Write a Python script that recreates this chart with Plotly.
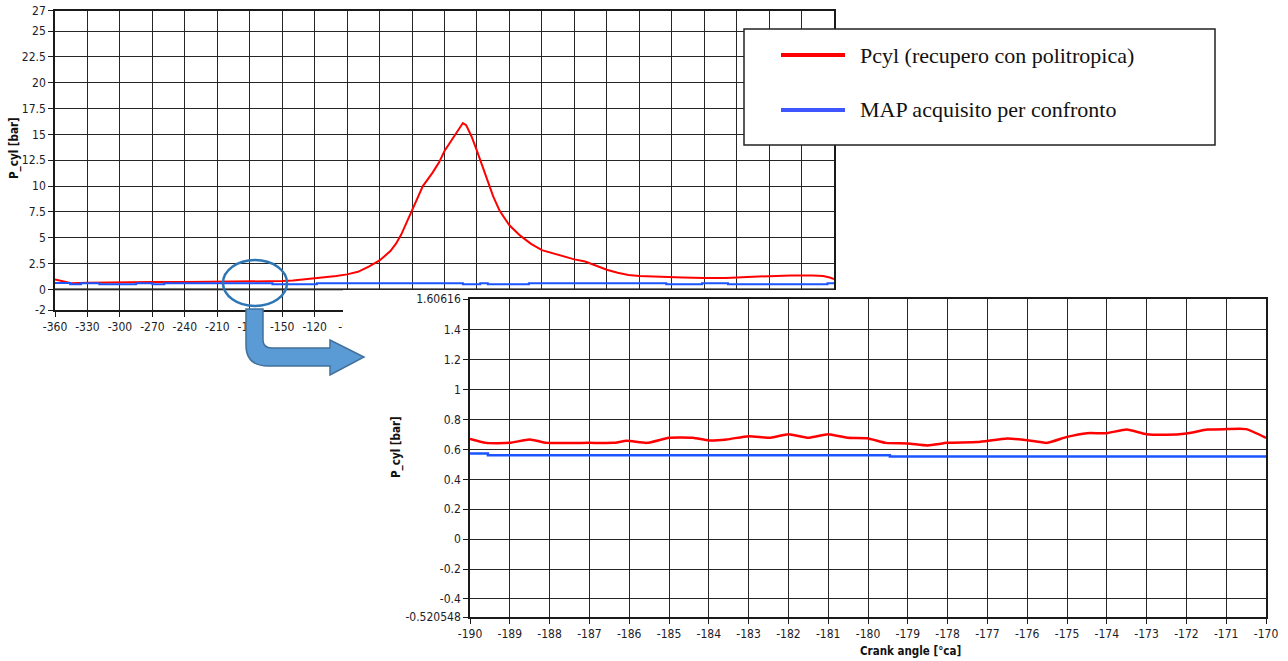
import plotly.graph_objects as go

W, H = 1288, 661

# ---- full engine cycle: cylinder pressure and MAP (deg crank angle, bar) ----
cycle_angle = [-360, -355, -350, -345, -330, -300, -270, -240, -210, -180,
               -160, -150, -140, -130, -120, -110, -100, -90, -80, -70,
               -60, -50, -45, -40, -30, -20, -11, -5, 0, 8,
               13, 17, 20, 25, 30, 38, 45, 51, 60, 70,
               80, 90, 100, 110, 120, 130, 140, 150, 160, 170,
               180, 200, 220, 240, 260, 280, 300, 320, 340, 350,
               356, 360]
pcyl_cycle = [0.95, 0.85, 0.7, 0.6, 0.65, 0.7, 0.72, 0.7, 0.72, 0.72,
              0.75, 0.8, 0.85, 0.95, 1.05, 1.2, 1.3, 1.45, 1.7, 2.2,
              2.8, 3.7, 4.4, 5.3, 7.6, 10.0, 11.3, 12.3, 13.4, 14.7,
              15.5, 16.1, 15.9, 14.8, 13.4, 11.0, 9.0, 7.6, 6.2, 5.2,
              4.4, 3.8, 3.5, 3.2, 2.9, 2.7, 2.3, 1.9, 1.6, 1.4,
              1.3, 1.2, 1.15, 1.1, 1.1, 1.2, 1.3, 1.35, 1.35, 1.3,
              1.15, 1.0]

map_angle = [-360, -346, -336, -319, -285, -270, -259, -159, -118,
             17, 33, 40, 78, 205, 238, 262, 354, 360]
map_cycle = [0.62, 0.5, 0.6, 0.5, 0.6, 0.5, 0.6, 0.5, 0.6,
             0.5, 0.6, 0.5, 0.6, 0.5, 0.6, 0.5, 0.6, 0.6]

cycle_xticks = list(range(-360, 361, 30))
# labels right of -90 sit under the detail panel, so they are left blank
cycle_xlabels = [str(v) if v <= -90 else "" for v in cycle_xticks]
cycle_yticks = [-2, 0, 2.5, 5, 7.5, 10, 12.5, 15, 17.5, 20, 22.5, 25, 27]
cycle_ylabels = ["-2", "0", "2.5", "5", "7.5", "10", "12.5", "15", "17.5",
                 "20", "22.5", "25", "27"]

# ---- detail window -190 .. -170 deg ----
zoom_angle = [-190, -189.6, -189, -188.5, -188.07, -187, -186.4, -186.06,
              -185.55, -185, -184.4, -184, -183.55, -183, -182.45, -182,
              -181.5, -181, -180.52, -180.02, -179.56, -179, -178.5, -178,
              -177.25, -176.5, -176, -175.5, -175, -174.5, -174, -173.5,
              -173, -172.5, -172, -171.47, -171, -170.5, -170]
pcyl_zoom = [0.671, 0.644, 0.644, 0.667, 0.644, 0.644, 0.644, 0.658,
             0.644, 0.678, 0.678, 0.66, 0.667, 0.689, 0.678, 0.702,
             0.678, 0.702, 0.678, 0.675, 0.644, 0.64, 0.627, 0.644,
             0.649, 0.673, 0.662, 0.644, 0.684, 0.709, 0.709, 0.733,
             0.702, 0.698, 0.707, 0.733, 0.736, 0.736, 0.678]

map_zoom_angle = [-190, -189.55, -179.45, -170]
map_zoom = [0.573, 0.562, 0.553, 0.553]

zoom_xticks = list(range(-190, -169, 1))
zoom_yticks = [-0.520548, -0.4, -0.2, 0, 0.2, 0.4, 0.6, 0.8, 1, 1.2, 1.4, 1.60616]
zoom_ylabels = ["-0.520548", "-0.4", "-0.2", "0", "0.2", "0.4", "0.6", "0.8",
                "1", "1.2", "1.4", "1.60616"]

legend_labels = ["Pcyl (recupero con politropica)", "MAP acquisito per confronto"]

RED = "#ff0000"
BLUE = "#1a55ff"
GRID = "#262626"
SANS = "DejaVu Sans Condensed, Liberation Sans Narrow, sans-serif"
TICKFONT = dict(family=SANS, size=12, color="#1c1c28")


def px(x):
    return x / W


def py(y):
    return 1 - y / H


fig = go.Figure()

fig.add_trace(go.Scatter(x=cycle_angle, y=pcyl_cycle, mode="lines",
                         line=dict(color=RED, width=2), xaxis="x", yaxis="y",
                         showlegend=False))
fig.add_trace(go.Scatter(x=map_angle, y=map_cycle, mode="lines",
                         line=dict(color=BLUE, width=2, shape="hv"),
                         xaxis="x", yaxis="y", showlegend=False))

# blank panel that sits over the lower-right corner of the cycle chart
fig.add_trace(go.Scatter(x=[None], y=[None], xaxis="x2", yaxis="y2",
                         showlegend=False, hoverinfo="skip"))

fig.add_trace(go.Scatter(x=zoom_angle, y=pcyl_zoom, mode="lines",
                         line=dict(color=RED, width=2.5, shape="spline", smoothing=0.5),
                         xaxis="x3", yaxis="y3", showlegend=False))
fig.add_trace(go.Scatter(x=map_zoom_angle, y=map_zoom, mode="lines",
                         line=dict(color=BLUE, width=2.5, shape="hv"),
                         xaxis="x3", yaxis="y3", showlegend=False))

axis_common = dict(showgrid=True, gridcolor=GRID, gridwidth=1.4,
                   showline=True, mirror=True, linecolor="#1a1a1a", linewidth=1.6,
                   ticks="outside", ticklen=5, tickcolor="#1a1a1a", tickwidth=1.4,
                   tickfont=TICKFONT, zeroline=False)

fig.update_layout(
    width=W, height=H,
    margin=dict(l=0, r=0, t=0, b=0),
    paper_bgcolor="white", plot_bgcolor="white",
    template="none",
    xaxis=dict(domain=[px(55), px(834)], range=[-360, 360], anchor="y",
               tickmode="array", tickvals=cycle_xticks,
               ticktext=cycle_xlabels, **axis_common),
    yaxis=dict(domain=[py(310), py(10.5)], range=[-2, 27], anchor="x",
               tickmode="array", tickvals=cycle_yticks, ticktext=cycle_ylabels,
               **axis_common),
    xaxis2=dict(domain=[px(343), 1], anchor="y2", visible=False, range=[0, 1]),
    yaxis2=dict(domain=[0, py(290)], anchor="x2", visible=False, range=[0, 1]),
    xaxis3=dict(domain=[px(470), px(1266)], range=[-190, -170], anchor="y3",
                tickmode="array", tickvals=zoom_xticks,
                ticktext=[str(v) for v in zoom_xticks], **axis_common),
    yaxis3=dict(domain=[py(617), py(299)], range=[-0.520548, 1.60616], anchor="x3",
                tickmode="array", tickvals=zoom_yticks, ticktext=zoom_ylabels,
                **axis_common),
)

# zero line of the cycle chart drawn heavier
fig.add_shape(type="line", xref="x", yref="y", x0=-360, x1=360, y0=0, y1=0,
              line=dict(color="#7a7a7a", width=2.5), layer="below")

TITLEFONT = dict(family=SANS, size=11.5, color="#111")
fig.add_annotation(x=px(15), y=py(148), xref="paper", yref="paper",
                   xanchor="center", yanchor="middle",
                   text="<b>P_cyl [bar]</b>", textangle=-90, showarrow=False,
                   font=TITLEFONT)
fig.add_annotation(x=px(397), y=py(447), xref="paper", yref="paper",
                   xanchor="center", yanchor="middle",
                   text="<b>P_cyl [bar]</b>", textangle=-90, showarrow=False,
                   font=TITLEFONT)
fig.add_annotation(x=px(910), y=py(651), xref="paper", yref="paper",
                   xanchor="center", yanchor="middle",
                   text="<b>Crank angle [°ca]</b>", showarrow=False,
                   font=TITLEFONT)

# legend box
fig.add_shape(type="rect", xref="paper", yref="paper",
              x0=px(744), x1=px(1215), y0=py(145), y1=py(29),
              line=dict(color="#222", width=1.5), fillcolor="white", layer="above")
for yy, col, label in [(55, RED, legend_labels[0]), (110, "#3f55ff", legend_labels[1])]:
    fig.add_shape(type="line", xref="paper", yref="paper",
                  x0=px(781), x1=px(845), y0=py(yy), y1=py(yy),
                  line=dict(color=col, width=4), layer="above")
    fig.add_annotation(x=px(858), y=py(yy), xref="paper", yref="paper",
                       text=label, showarrow=False, xanchor="left", yanchor="middle",
                       font=dict(family="Liberation Serif, Times New Roman, serif",
                                 size=22, color="#111"))

# highlight ring around the detail window
fig.add_shape(type="circle", xref="paper", yref="paper",
              x0=px(223), x1=px(287), y0=py(306), y1=py(260),
              line=dict(color="#2e75b6", width=2.5), layer="above")

# bent arrow pointing to the detail chart
pts = [("M", (246, 309)), ("L", (246, 345)), ("Q", (246, 366), (268, 366)),
       ("L", (330, 366)), ("L", (330, 375)), ("L", (364, 357)), ("L", (330, 340)),
       ("L", (330, 348)), ("L", (272, 348)), ("Q", (263, 348), (263, 340)),
       ("L", (263, 309))]
path = ""
for item in pts:
    cmd = item[0]
    coords = " ".join(f"{px(x):.5f},{py(y):.5f}" for x, y in item[1:])
    path += f"{cmd} {coords} "
path += "Z"
fig.add_shape(type="path", xref="paper", yref="paper", path=path,
              fillcolor="#5b9bd5", line=dict(color="#41719c", width=1.5),
              layer="above")

fig.write_html("out.html")
